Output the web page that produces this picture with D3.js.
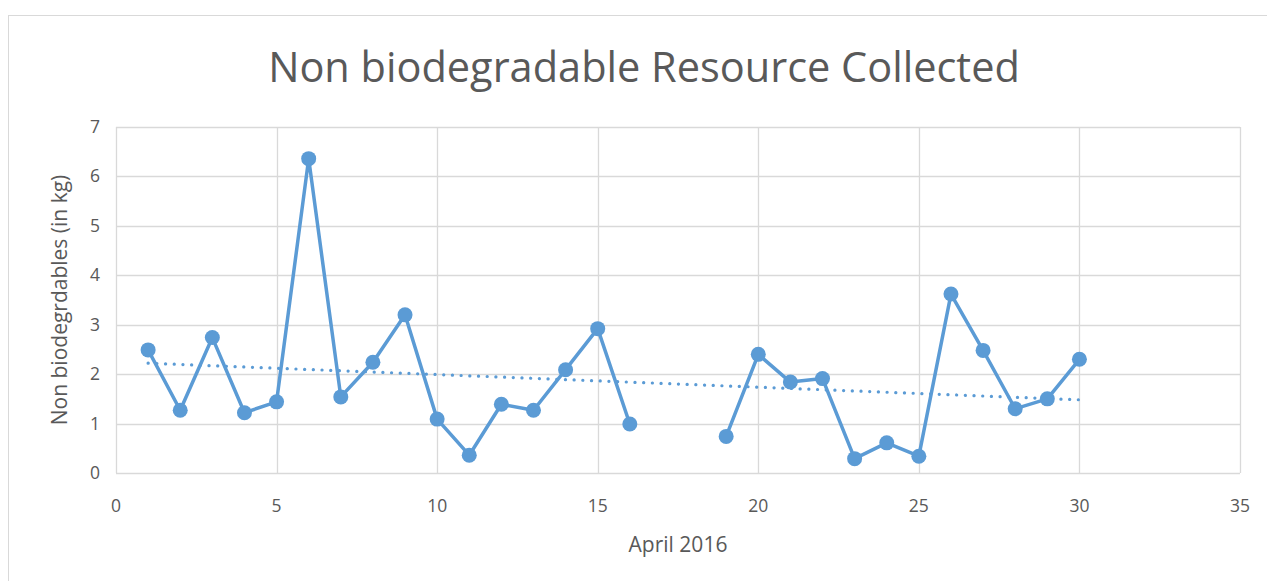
<!DOCTYPE html>
<html>
<head>
<meta charset="utf-8">
<script src="https://cdn.jsdelivr.net/npm/d3@7"></script>
<style>
  body { margin: 0; background: #fff; }
  svg text { font-family: "Open Sans", "Noto Sans", sans-serif; fill: #595959; }
</style>
</head>
<body>
<div id="chart"></div>
<script>
// days of April 2016 (17 and 18 have no reading)
var days = [1, 2, 3, 4, 5, 6, 7, 8, 9, 10, 11, 12, 13, 14, 15, 16, 17, 18,
            19, 20, 21, 22, 23, 24, 25, 26, 27, 28, 29, 30];
var collected = [2.49, 1.27, 2.74, 1.22, 1.44, 6.36, 1.54, 2.24, 3.20, 1.09,
                 0.36, 1.39, 1.27, 2.09, 2.92, 0.99, null, null,
                 0.74, 2.40, 1.84, 1.91, 0.29, 0.61, 0.34, 3.62, 2.48, 1.30, 1.50, 2.30];
var xTicks = [0, 5, 10, 15, 20, 25, 30, 35];
var yTicks = [0, 1, 2, 3, 4, 5, 6, 7];

var W = 1267, H = 581;
var margin = { left: 116, right: 27, top: 127, bottom: 108 };
var color = "#5B9BD5";

var svg = d3.select("#chart").append("svg").attr("width", W).attr("height", H);

// chart area border
svg.append("rect").attr("x", 8.5).attr("y", 15.5).attr("width", W).attr("height", H)
    .attr("fill", "none").attr("stroke", "#d9d9d9");

var x = d3.scaleLinear().domain([0, 35]).range([margin.left, W - margin.right]);
var y = d3.scaleLinear().domain([0, 7]).range([H - margin.bottom, margin.top]);

// gridlines
svg.append("g").selectAll("line").data(yTicks).enter().append("line")
    .attr("x1", x(0)).attr("x2", x(35))
    .attr("y1", function(d) { return Math.round(y(d)) + 0.5; })
    .attr("y2", function(d) { return Math.round(y(d)) + 0.5; })
    .attr("stroke", "#d9d9d9").attr("stroke-width", 1.3);
svg.append("g").selectAll("line").data(xTicks).enter().append("line")
    .attr("y1", y(0)).attr("y2", y(7))
    .attr("x1", function(d) { return Math.round(x(d)) + 0.5; })
    .attr("x2", function(d) { return Math.round(x(d)) + 0.5; })
    .attr("stroke", "#d9d9d9").attr("stroke-width", 1.3);

// tick labels
svg.append("g").selectAll("text").data(yTicks).enter().append("text")
    .attr("x", x(0) - 16).attr("y", function(d) { return y(d) + 6; })
    .attr("text-anchor", "end").style("font-size", "17.5px")
    .text(function(d) { return d; });
svg.append("g").selectAll("text").data(xTicks).enter().append("text")
    .attr("x", function(d) { return x(d); }).attr("y", y(0) + 39)
    .attr("text-anchor", "middle").style("font-size", "17.5px")
    .text(function(d) { return d; });

// titles
svg.append("text").attr("x", 644).attr("y", 82).attr("text-anchor", "middle")
    .style("font-size", "41.5px").text("Non biodegradable Resource Collected");
svg.append("text").attr("x", x(17.5)).attr("y", 552).attr("text-anchor", "middle")
    .style("font-size", "21px").text("April 2016");
svg.append("text").attr("transform", "translate(67," + y(3.5) + ") rotate(-90)")
    .attr("text-anchor", "middle").style("font-size", "21px")
    .text("Non biodegrdables (in kg)");

var pts = days.map(function(d, i) { return { day: d, v: collected[i] }; });
var valid = pts.filter(function(p) { return p.v !== null; });

// linear trendline (least squares)
var mx = d3.mean(valid, function(p) { return p.day; });
var my = d3.mean(valid, function(p) { return p.v; });
var slope = d3.sum(valid, function(p) { return (p.day - mx) * (p.v - my); }) /
            d3.sum(valid, function(p) { return (p.day - mx) * (p.day - mx); });
var icpt = my - slope * mx;
var trendEnds = [d3.min(valid, function(p) { return p.day; }), d3.max(valid, function(p) { return p.day; })];

svg.append("line")
    .attr("x1", x(trendEnds[0])).attr("y1", y(icpt + slope * trendEnds[0]))
    .attr("x2", x(trendEnds[1])).attr("y2", y(icpt + slope * trendEnds[1]))
    .attr("stroke", color).attr("stroke-width", 3.2)
    .attr("stroke-dasharray", "0.1 8.6").attr("stroke-linecap", "round");

var line = d3.line()
    .defined(function(p) { return p.v !== null; })
    .x(function(p) { return x(p.day); })
    .y(function(p) { return y(p.v); });

svg.append("path").datum(pts).attr("d", line)
    .attr("fill", "none").attr("stroke", color).attr("stroke-width", 3.5)
    .attr("stroke-linejoin", "round");

svg.append("g").selectAll("circle").data(valid).enter().append("circle")
    .attr("cx", function(p) { return x(p.day); })
    .attr("cy", function(p) { return y(p.v); })
    .attr("r", 7.5).attr("fill", color);
</script>
</body>
</html>
